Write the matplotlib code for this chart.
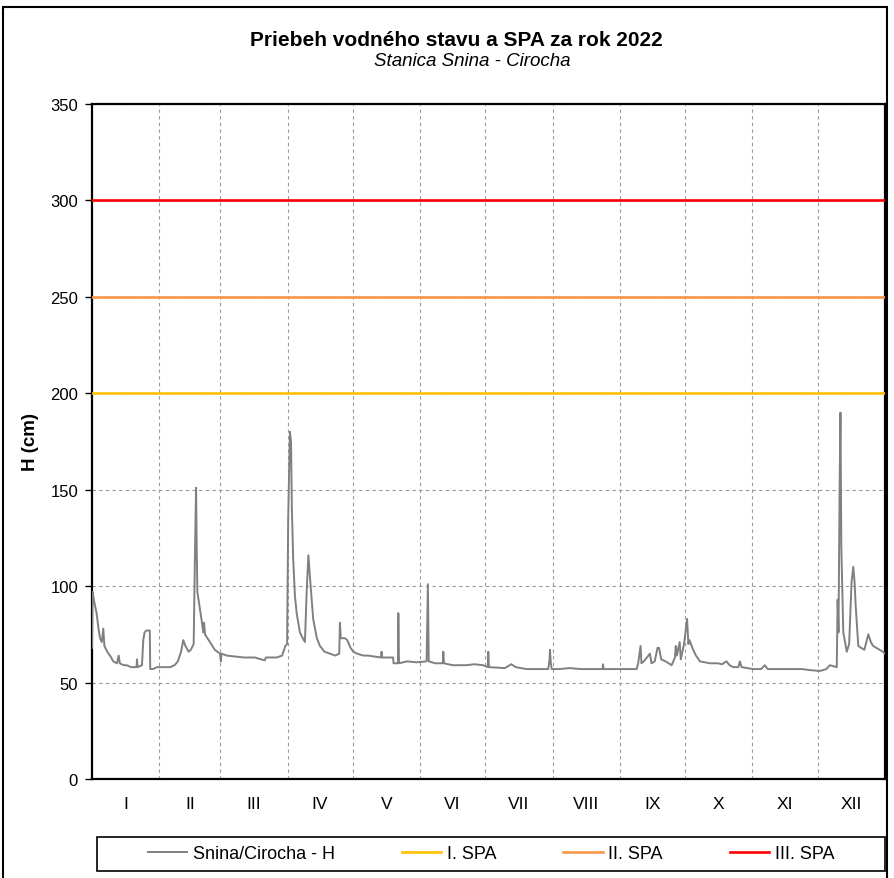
import numpy as np
import matplotlib.pyplot as plt
from matplotlib.patches import Rectangle

plt.rcParams['font.family'] = ['Liberation Sans', 'DejaVu Sans']

# water level H (cm): day of year -> level
day = [0, 0.3, 1.0, 2.1, 3.0, 3.7, 4.5, 5.2, 5.7, 7.0, 8.3, 9.8, 11.5, 12.3, 12.8,
       14.5, 16.0, 18.0, 20.5, 20.7, 21.0, 23.0, 23.6, 24.2, 25.0, 26.6, 26.8, 28.0,
       30.0, 33.0, 36.0, 38.0, 39.5, 41.0, 42.0, 43.0, 44.5, 45.5, 46.8, 47.4, 47.9,
       48.2, 48.5, 49.7, 50.5, 51.2, 51.6, 52.0, 54.3, 56.5, 58.9, 59.3, 59.6, 62.0,
       66.0, 70.0, 75.0, 79.5, 80.0, 85.0, 87.5, 89.0, 89.8, 90.3, 91.1, 91.6, 92.0,
       92.6, 93.4, 94.2, 95.7, 97.0, 98.0, 98.8, 99.6, 100.3, 101.8, 103.5, 104.9,
       107.0, 109.5, 112.0, 113.8, 114.1, 114.5, 116.4, 117.5, 119.0, 120.3, 122.0,
       124.9, 127.0, 133.0, 133.3, 133.6, 138.6, 138.8, 140.8, 141.0, 141.3, 145.0,
       149.4, 154.0, 154.6, 155.0, 158.0, 161.5, 161.7, 162.0, 166.0, 172.0, 176.0,
       180.0, 182.2, 182.4, 182.7, 190.0, 193.0, 195.0, 200.0, 205.0, 210.0, 210.6,
       210.8, 211.2, 211.6, 215.0, 220.0, 225.0, 235.0, 235.2, 235.5, 245.0, 250.7,
       251.4, 252.5, 252.9, 254.0, 256.8, 257.5, 259.0, 260.3, 261.0, 262.0, 264.0,
       266.8, 268.3, 268.7, 269.2, 270.5, 271.0, 272.5, 273.9, 274.5, 275.0, 276.7,
       278.0, 279.8, 282.0, 284.4, 288.0, 290.0, 292.0, 293.5, 295.1, 297.5, 298.2,
       299.0, 304.3, 308.0, 309.7, 311.0, 318.0, 327.0, 330.0, 335.0, 338.0, 339.6,
       342.8, 343.2, 343.6, 344.1, 344.5, 344.9, 345.3, 345.8, 347.4, 348.5, 349.6,
       350.4, 351.0, 351.5, 352.7, 354.0, 355.5, 357.3, 358.5, 359.5, 361.0, 362.6,
       364.0, 365.0]
level = [68, 97, 92, 86, 78, 73, 71, 78, 69, 66, 64, 61, 60, 64, 60,
         59, 59, 58, 58, 62, 58, 59, 72, 76, 77, 77, 57, 57,
         58, 58, 58, 59, 61, 66, 72, 69, 66, 67, 70, 118, 151,
         120, 97, 88, 82, 76, 81, 75, 71, 67, 65, 61, 65, 64,
         63.5, 63, 63, 61.5, 63, 63, 64, 69, 70, 135, 180, 175, 140,
         114, 95, 86, 76, 73, 71, 97, 116, 105, 83, 73, 69,
         66, 65, 64, 65, 81, 73, 73, 72, 68, 66, 65,
         64, 64, 63, 66, 63, 63, 60, 60, 86, 60, 61,
         60.5, 61, 101, 61, 60, 60, 66, 60, 59, 59, 59.5,
         59, 58, 66, 58, 57.5, 59.5, 58, 57, 57, 57, 62,
         67, 60, 57, 57, 57.5, 57, 57, 59.5, 57, 57, 57,
         60, 69, 60, 61, 65, 60, 61, 68, 68, 62, 61,
         59, 63, 69, 64, 71, 62, 70, 83, 70, 72, 67,
         64, 61, 60.5, 60, 60, 59.5, 61, 59, 58, 58, 61,
         58, 57, 57, 59, 57, 57, 57, 56.5, 56, 57, 59,
         58, 93, 76, 150, 190, 120, 100, 76, 66, 70, 102,
         110, 102, 90, 69, 68, 67, 75, 71, 69, 68, 67,
         66, 65]

spa_levels = [200, 250, 300]
spa_names = ['I. SPA', 'II. SPA', 'III. SPA']
spa_colors = ['#FFC000', '#F79646', '#FF0000']

months = ['I', 'II', 'III', 'IV', 'V', 'VI', 'VII', 'VIII', 'IX', 'X', 'XI', 'XII']
month_days = [31, 28, 31, 30, 31, 30, 31, 31, 30, 31, 30, 31]

month_start = np.concatenate([[0], np.cumsum(month_days)])
month_mid = (month_start[:-1] + month_start[1:]) / 2.0

fig = plt.figure(figsize=(8.95, 8.79), dpi=100)
ax = fig.add_axes([92 / 895, 1 - 780 / 879, 793 / 895, 675 / 879])

ax.plot(day, level, color='#808080', lw=1.4, label='Snina/Cirocha - H', zorder=3)
for lv, nm, c in zip(spa_levels, spa_names, spa_colors):
    ax.axhline(lv, color=c, lw=1.9, label=nm, zorder=4)

ax.set_xlim(0, 365)
ax.set_ylim(0, 350)
ax.set_yticks(range(0, 351, 50))
ax.set_xticks(month_start[1:-1])
ax.set_xticklabels([])
ax.set_xticks(month_mid, minor=True)
ax.set_xticklabels(months, minor=True, fontsize=12.5)
ax.tick_params(axis='x', which='both', length=0)
ax.tick_params(axis='x', which='minor', pad=12)
ax.tick_params(axis='y', labelsize=12, length=5, width=1, pad=5)
ax.grid(True, axis='both', which='major', ls=(0, (3, 3)), color='#999999', lw=0.8)
for s in ax.spines.values():
    s.set_linewidth(1.6)

ax.set_ylabel('H (cm)', fontsize=13.5, fontweight='bold', labelpad=8)

fig.text(456 / 895, 1 - 40 / 879, 'Priebeh vodného stavu a SPA za rok 2022',
         ha='center', va='center', fontsize=15, fontweight='bold')
fig.text(472 / 895, 1 - 62 / 879, 'Stanica Snina - Cirocha',
         ha='center', va='center', fontsize=13.5, style='italic')

# legend frame and entries
fig.patches.append(Rectangle((97 / 895, 1 - 872 / 879), 788 / 895, 34 / 879,
                             transform=fig.transFigure, fill=False,
                             edgecolor='black', lw=1.2))
leg = fig.legend(loc='center', bbox_to_anchor=(491 / 895, 1 - 855 / 879),
                 ncol=4, frameon=False, fontsize=13, handlelength=2.2,
                 handletextpad=0.3, columnspacing=3.7)

# outer border of the chart
fig.patches.append(Rectangle((3 / 895, -0.01), 884 / 895, 1.01 - 8 / 879,
                             transform=fig.transFigure, fill=False,
                             edgecolor='black', lw=1.5))

fig.savefig('out.png', dpi=100)
